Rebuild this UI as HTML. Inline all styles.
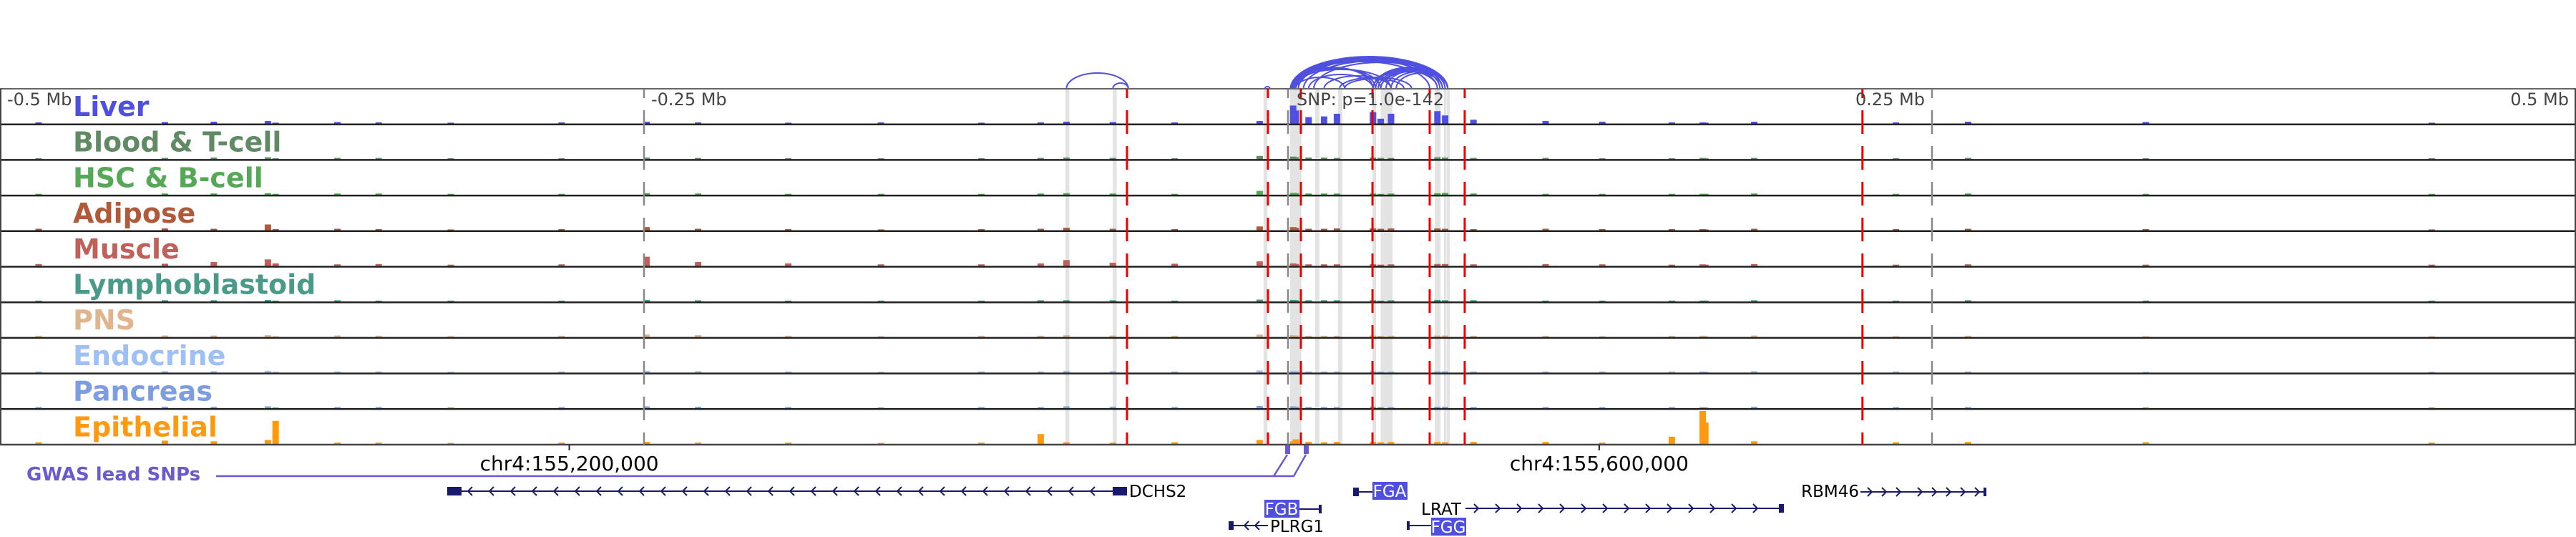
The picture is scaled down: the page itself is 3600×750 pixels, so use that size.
<!DOCTYPE html>
<html><head><meta charset="utf-8"><style>
html,body{margin:0;padding:0;background:#fff;}
svg{display:block;font-family:"DejaVu Sans","Liberation Sans",sans-serif;}
</style></head><body>
<svg id="chart" width="3600" height="750" viewBox="0 0 3600 750" xmlns="http://www.w3.org/2000/svg">
<g id="bands"></g>
<g id="arcs"></g>
<g id="tracks"></g>
<g id="vlines"></g>
<g id="labels"></g>
<g id="axis"></g>
<g id="genes"></g>
</svg>
<script>
const NS="http://www.w3.org/2000/svg";
// data
const trackNames=["Liver","Blood & T-cell","HSC & B-cell","Adipose","Muscle","Lymphoblastoid","PNS","Endocrine","Pancreas","Epithelial"];
const binPositionsKb=[-485,-436,-417,-396,-393,-369,-353,-325,-282,-249,-229,-194,-158,-119,-96,-86,-68,-44,-11,2,3,8,14,19,33,36,40,58,61,72,100,122,149,161,162,181,236,264,333,444];
const liverVals=[.04,.05,.06,.08,.03,.05,.04,.03,.04,.06,.04,.03,.04,.03,.04,.06,.05,.04,.08,.55,.40,.20,.22,.30,.35,.15,.30,.38,.25,.12,.08,.06,.04,.04,.03,.06,.04,.06,.05,.03];
const bloodVals=[.03,.04,.05,.06,.03,.04,.04,.03,.03,.05,.04,.03,.03,.03,.04,.05,.04,.03,.10,.08,.06,.05,.05,.04,.05,.04,.04,.06,.05,.04,.04,.03,.03,.04,.03,.04,.03,.04,.03,.03];
const hscVals=[.03,.04,.04,.05,.03,.04,.04,.03,.03,.05,.04,.03,.03,.03,.04,.05,.04,.03,.12,.06,.05,.04,.04,.04,.04,.03,.04,.05,.06,.04,.03,.03,.03,.03,.03,.04,.03,.04,.03,.03];
const adiposeVals=[.05,.06,.05,.18,.04,.05,.04,.03,.04,.10,.05,.04,.03,.04,.05,.08,.05,.04,.12,.10,.08,.05,.05,.06,.06,.05,.06,.06,.05,.04,.05,.04,.04,.04,.03,.05,.04,.05,.04,.03];
const muscleVals=[.06,.07,.12,.20,.08,.05,.06,.04,.05,.28,.12,.08,.05,.05,.08,.18,.10,.07,.14,.08,.06,.05,.05,.05,.05,.04,.05,.06,.06,.05,.06,.05,.04,.05,.04,.06,.04,.05,.04,.04];
const lymphVals=[.03,.04,.04,.05,.03,.04,.03,.03,.03,.05,.04,.03,.03,.03,.04,.04,.04,.03,.06,.05,.04,.04,.04,.04,.04,.03,.04,.05,.04,.04,.03,.03,.03,.03,.03,.04,.03,.04,.03,.03];
const pnsVals=[.04,.05,.05,.06,.03,.05,.04,.03,.04,.08,.06,.04,.03,.04,.04,.06,.05,.04,.08,.06,.05,.04,.04,.04,.05,.04,.04,.05,.05,.04,.04,.03,.04,.04,.03,.05,.03,.04,.03,.03];
const endoVals=[.04,.05,.05,.06,.03,.04,.04,.03,.04,.06,.05,.04,.03,.04,.04,.06,.05,.04,.07,.06,.05,.04,.04,.04,.05,.04,.04,.05,.05,.04,.04,.04,.04,.04,.03,.05,.04,.04,.03,.03];
const pancVals=[.04,.05,.05,.06,.03,.04,.04,.03,.04,.06,.05,.04,.03,.04,.04,.06,.05,.04,.07,.06,.05,.04,.04,.04,.05,.04,.04,.05,.05,.04,.04,.04,.04,.04,.03,.05,.04,.04,.03,.03];
const epiVals=[.05,.10,.08,.12,.70,.04,.04,.03,.04,.06,.04,.04,.03,.04,.30,.05,.04,.05,.12,.08,.14,.06,.05,.06,.06,.05,.06,.06,.05,.06,.06,.04,.22,1.0,.65,.08,.05,.06,.05,.04];
const trackColors=["#5050e0","#5f8a63","#55a855","#b05a3a","#c0605a","#4a9a8a","#e0b48c","#9ec0f5","#7d9de0","#ff9a10"];
const redLinesKb=[-62.5,-7.8,5,32.8,55,68.6,223];
const grayAxisKb=[-250,0,250];
const bandsKb=[[-86.4,1.5],[-68,1.5],[-9.5,1.5],[0.8,4.4],[10.5,1.7],[19.4,1.7],[32.8,1.4],[36,1],[37,3.6],[57,2.2],[60.5,1],[61.7,1.1]];
const arcsKb=[[-86,-62,22],[-68,-62,8],[-9,-7,3],[1,62,45],[1.5,61,44],[2,60,43],[2.5,62,44],[3,59,42],[1,58,40],[2,55,38],[4,62,41],[6,62,39],[10,62,37],[1,33,30],[2,34,29],[3,36,28],[1,40,27],[8,33,20],[14,40,18],[20,48,16],[33,62,30],[34,61,29],[35,62,28],[36,62,27],[38,62,26],[40,62,24],[33,58,25],[36,60,24],[42,62,22],[3,22,16],[22,45,14]];
const tickKb=[-279.0,120.8];
const tickLabels=["chr4:155,200,000","chr4:155,600,000"];
const topTickLabels=["-0.5 Mb","-0.25 Mb","0.25 Mb","0.5 Mb"];
// scales
const X=kb=>1800+kb*3.6;
const TOP=124,ROWH=49.7,NT=10;
const rowTop=i=>TOP+i*ROWH;
const allVals=[liverVals,bloodVals,hscVals,adiposeVals,muscleVals,lymphVals,pnsVals,endoVals,pancVals,epiVals];
function mk(tag,attrs,parent){const e=document.createElementNS(NS,tag);for(const k in attrs)e.setAttribute(k,attrs[k]);parent.appendChild(e);return e;}
const g=id=>document.getElementById(id);
bandsKb.forEach(b=>{const r=mk('rect',{x:X(b[0]),y:TOP,width:b[1]*3.6,height:ROWH*NT,fill:'#e3e3e3'},g('bands'));

});
arcsKb.forEach(a=>{const x1=X(a[0]),x2=X(a[1]);const p=mk('path',{d:`M${x1},${TOP} A${(x2-x1)/2},${a[2]} 0 0 1 ${x2},${TOP}`,fill:'none',stroke:'#5050e0','stroke-width':2},g('arcs'));

});
for(let i=0;i<NT;i++){
  const base=rowTop(i+1)-1;
  allVals[i].forEach((v,j)=>{const h=v*46;const r=mk('rect',{x:X(binPositionsKb[j])-4.5,y:base-h,width:9,height:h,fill:trackColors[i]},g('tracks'));
  
  });
}
mk('line',{x1:0,y1:TOP,x2:3600,y2:TOP,stroke:'#666','stroke-width':2},g('tracks'));
for(let i=1;i<=NT;i++){mk('line',{x1:0,y1:rowTop(i),x2:3600,y2:rowTop(i),stroke:i==NT?'#444':'#222','stroke-width':2.5},g('tracks'));}
mk('line',{x1:1,y1:TOP,x2:1,y2:rowTop(NT),stroke:'#444','stroke-width':2},g('tracks'));
mk('line',{x1:3599,y1:TOP,x2:3599,y2:rowTop(NT),stroke:'#444','stroke-width':2},g('tracks'));
grayAxisKb.forEach(k=>{const l=mk('line',{x1:X(k),y1:TOP,x2:X(k),y2:rowTop(NT),stroke:'#888','stroke-width':2.5,'stroke-dasharray':'33 17','stroke-dashoffset':20},g('vlines'));

});
redLinesKb.forEach(k=>{const l=mk('line',{x1:X(k),y1:TOP,x2:X(k),y2:rowTop(NT),stroke:'#ee0000','stroke-width':3,'stroke-dasharray':'33 17','stroke-dashoffset':20},g('vlines'));

});
trackNames.forEach((n,i)=>{const t=mk('text',{x:102,y:rowTop(i)+38,fill:trackColors[i],'font-size':38,'font-weight':'bold'},g('labels'));t.textContent=n;

});
const tl=[[10,'start'],[910,'start'],[2690,'end'],[3590,'end']];
topTickLabels.forEach((s,i)=>{const t=mk('text',{x:tl[i][0],y:147,fill:'#444','font-size':24,'text-anchor':tl[i][1]},g('axis'));t.textContent=s;

});
const snp=mk('text',{x:1812,y:147,fill:'#444','font-size':24},g('axis'));snp.textContent='SNP: p=1.0e-142';


tickKb.forEach((k,i)=>{mk('line',{x1:X(k),y1:rowTop(NT),x2:X(k),y2:629,stroke:'#222','stroke-width':2},g('axis'));
const t=mk('text',{x:X(k),y:657,'font-size':28,'text-anchor':'middle',fill:'#000'},g('axis'));t.textContent=tickLabels[i];

});
</script>
<svg style="position:absolute;left:0;top:0" width="3600" height="750" xmlns="http://www.w3.org/2000/svg" font-family="DejaVu Sans, Liberation Sans, sans-serif">
<text x="37" y="671" fill="#6a5acd" font-size="26" font-weight="bold">GWAS lead SNPs</text>
<polyline points="302,665 1780,665 1799,635" fill="none" stroke="#6a5acd" stroke-width="2.5"/>
<polyline points="1780,665 1808,665 1825,635" fill="none" stroke="#6a5acd" stroke-width="2.5"/>
<rect x="1796" y="622" width="7" height="12" fill="#6a5acd"/>
<rect x="1822" y="622" width="7" height="12" fill="#6a5acd"/>
<g stroke="#191970" fill="none" stroke-width="2">
<line x1="625" y1="686" x2="1575" y2="686"/>
<path d="M660,680 l-6,6 6,6 M690,680 l-6,6 6,6 M720,680 l-6,6 6,6 M750,680 l-6,6 6,6 M780,680 l-6,6 6,6 M810,680 l-6,6 6,6 M840,680 l-6,6 6,6 M870,680 l-6,6 6,6 M900,680 l-6,6 6,6 M930,680 l-6,6 6,6 M960,680 l-6,6 6,6 M990,680 l-6,6 6,6 M1020,680 l-6,6 6,6 M1050,680 l-6,6 6,6 M1080,680 l-6,6 6,6 M1110,680 l-6,6 6,6 M1140,680 l-6,6 6,6 M1170,680 l-6,6 6,6 M1200,680 l-6,6 6,6 M1230,680 l-6,6 6,6 M1260,680 l-6,6 6,6 M1290,680 l-6,6 6,6 M1320,680 l-6,6 6,6 M1350,680 l-6,6 6,6 M1380,680 l-6,6 6,6 M1410,680 l-6,6 6,6 M1440,680 l-6,6 6,6 M1470,680 l-6,6 6,6 M1500,680 l-6,6 6,6 M1530,680 l-6,6 6,6"/>
<line x1="1891" y1="687" x2="1918" y2="687"/>
<line x1="1816" y1="711" x2="1847" y2="711"/>
<line x1="1717" y1="734" x2="1772" y2="734"/>
<path d="M1745,728 l-6,6 6,6 M1760,728 l-6,6 6,6"/>
<line x1="2048" y1="710" x2="2493" y2="710"/>
<path d="M2060,704 l6,6 -6,6 M2090,704 l6,6 -6,6 M2120,704 l6,6 -6,6 M2150,704 l6,6 -6,6 M2180,704 l6,6 -6,6 M2210,704 l6,6 -6,6 M2240,704 l6,6 -6,6 M2270,704 l6,6 -6,6 M2300,704 l6,6 -6,6 M2330,704 l6,6 -6,6 M2360,704 l6,6 -6,6 M2390,704 l6,6 -6,6 M2420,704 l6,6 -6,6 M2450,704 l6,6 -6,6"/>
<line x1="1966" y1="734" x2="2000" y2="734"/>
<line x1="2600" y1="687" x2="2775" y2="687"/>
<path d="M2610,681 l6,6 -6,6 M2630,681 l6,6 -6,6 M2650,681 l6,6 -6,6 M2680,681 l6,6 -6,6 M2700,681 l6,6 -6,6 M2720,681 l6,6 -6,6 M2740,681 l6,6 -6,6 M2760,681 l6,6 -6,6"/>
</g>
<g fill="#191970">
<rect x="625" y="680" width="20" height="12"/>
<rect x="1555" y="680" width="20" height="12"/>
<rect x="1891" y="681" width="8" height="12"/>
<rect x="1843" y="705" width="4" height="12"/>
<rect x="1717" y="728" width="7" height="12"/>
<rect x="2486" y="704" width="7" height="12"/>
<rect x="1966" y="728" width="4" height="12"/>
<rect x="2772" y="681" width="4" height="12"/>
</g>
<rect x="1918" y="673" width="49" height="25" fill="#5050e0"/>
<text x="1942" y="694" fill="#fff" font-size="23" text-anchor="middle">FGA</text>
<rect x="1767" y="698" width="49" height="25" fill="#5050e0"/>
<text x="1791" y="719" fill="#fff" font-size="23" text-anchor="middle">FGB</text>
<rect x="2000" y="723" width="49" height="25" fill="#5050e0"/>
<text x="2024" y="744" fill="#fff" font-size="23" text-anchor="middle">FGG</text>
<text x="1578" y="694" fill="#000" font-size="23">DCHS2</text>
<text x="1775" y="743" fill="#000" font-size="23">PLRG1</text>
<text x="2042" y="719" fill="#000" font-size="23" text-anchor="end">LRAT</text>
<text x="2598" y="694" fill="#000" font-size="23" text-anchor="end">RBM46</text>
</svg>
</body></html>
